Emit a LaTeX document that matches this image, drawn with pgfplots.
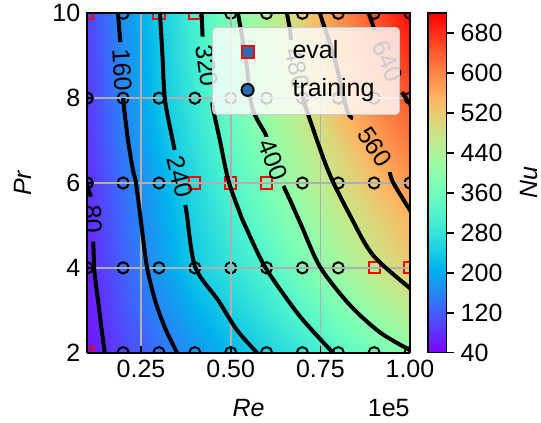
\documentclass[border=0pt]{standalone}
\usepackage{fontspec}
\setmainfont{Liberation Sans}
\usepackage{pgfplots}
\pgfplotsset{compat=1.18}
\pgfplotsset{/pgf/number format/assume math mode=true}
\definecolor{legblue}{RGB}{40,110,185}
\definecolor{gridgray}{RGB}{176,176,176}
\pgfplotsset{
 colormap={mplrainbow}{
  rgb=(0.5,0,1)
  rgb=(0.375,0.1951,0.9952)
  rgb=(0.25,0.3827,0.9808)
  rgb=(0.125,0.5556,0.9569)
  rgb=(0,0.7071,0.9239)
  rgb=(0.125,0.8315,0.8819)
  rgb=(0.25,0.9239,0.8315)
  rgb=(0.375,0.9808,0.7730)
  rgb=(0.5,1,0.7071)
  rgb=(0.625,0.9808,0.6344)
  rgb=(0.75,0.9239,0.5556)
  rgb=(0.875,0.8315,0.4714)
  rgb=(1,0.7071,0.3827)
  rgb=(1,0.5556,0.2903)
  rgb=(1,0.3827,0.1951)
  rgb=(1,0.1951,0.0980)
  rgb=(1,0,0)
 },
 mylegimg/.style={legend image code/.code={\path[draw=none,fill=none] (0pt,-3pt) rectangle (25pt,3pt);\draw[mark repeat=2,mark phase=2,##1] plot coordinates {(0pt,0pt) (12.5pt,0pt) (25pt,0pt)};}},
 cline/.style={black, line width=2pt, smooth, tension=0.5, forget plot, no marks},
 gline/.style={gridgray, line width=0.8pt, forget plot, no marks},
}
\tikzset{clab/.style={inner sep=0pt, anchor=center}}
\newcommand{\fs}{\fontsize{12.5}{15}\selectfont}
\begin{document}
\begin{tikzpicture}
\begin{axis}[
 name=ax,
 scale only axis, width=161.35pt, height=169.7pt,
 view={0}{90},
 xmin=0.1, xmax=1.0, ymin=2, ymax=10, zmin=0, zmax=800,
 colormap name=mplrainbow,
 point meta min=40, point meta max=720,
 xtick={0.25,0.5,0.75,1}, xticklabels={0.25,0.50,0.75,1.00},
 ytick={2,4,6,8,10},
 tick align=inside, major tick length=3.5pt,
 tick pos=left,
 tick style={black, line width=0.8pt},
 axis line style={line width=0.8pt},
 font=\fs,
 xlabel={\textit{Re}}, ylabel={\textit{Pr}},
 xlabel style={at={(axis description cs:0.5,-0.163)}, anchor=center},
 ylabel style={at={(axis description cs:-0.199,0.5)}, anchor=center},
 colorbar,
 colorbar style={at={(parent axis.north east)}, anchor=north west, xshift=0.6pt,
   width=9.2pt, ytick={40,120,...,680}, tick align=outside, major tick length=3.5pt,
   ytick pos=right, yticklabel pos=right,
   ylabel={\textit{Nu}}, ylabel style={at={(axis description cs:5.47,0.5)}, anchor=center},
   font=\fs, axis line style={line width=0.8pt}, tick style={line width=0.8pt, black}},
 legend style={at={(axis description cs:0.969,0.9596)}, anchor=north east,
   fill=white, fill opacity=0.8, draw opacity=1, text opacity=1,
   draw={rgb,255:red,204;green,204;blue,204}, rounded corners=2pt,
   inner xsep=5pt, inner ysep=6pt, row sep=6.5pt,
   nodes={inner sep=0pt, text height=9.5pt, text depth=3pt},
   /tikz/every odd column/.append style={column sep=10pt},
   font=\fs},
 legend cell align=left,
]
% Nu field (Re in units of 1e5)
\addplot3[surf, shader=interp, mesh/cols=10, forget plot] table {
x y z
0.1 2 58
0.2 2 100.3
0.3 2 140.1
0.4 2 177.9
0.5 2 213.8
0.6 2 250.2
0.7 2 287.9
0.8 2 325.6
0.9 2 362.8
1.0 2 400
0.1 3 62.7
0.2 3 112.1
0.3 3 161.3
0.4 3 204.5
0.5 3 247.3
0.6 3 287.7
0.7 3 329.4
0.8 3 376.5
0.9 3 420
1.0 3 460
0.1 4 69.7
0.2 4 123.8
0.3 4 179.7
0.4 4 239.4
0.5 4 280.4
0.6 4 321.6
0.7 4 373.9
0.8 4 423.5
0.9 4 470.6
1.0 4 517.6
0.1 5 76
0.2 5 130.6
0.3 5 189.7
0.4 5 248.7
0.5 5 299.6
0.6 5 350.6
0.7 5 401.6
0.8 5 455.7
0.9 5 502.6
1.0 5 543.6
0.1 6 80.5
0.2 6 139.3
0.3 6 199.7
0.4 6 261.4
0.5 6 322.1
0.6 6 375.8
0.7 6 431.4
0.8 6 487.1
0.9 6 534.8
1.0 6 582.4
0.1 7 84
0.2 7 151.3
0.3 7 215.6
0.4 7 277.6
0.5 7 338.2
0.6 7 398.8
0.7 7 454.8
0.8 7 512.6
0.9 7 571.9
1.0 7 615
0.1 8 89
0.2 8 159.3
0.3 8 228.9
0.4 8 291.3
0.5 8 358.9
0.6 8 424
0.7 8 478.4
0.8 8 549.3
0.9 8 598.9
1.0 8 646
0.1 9 92
0.2 9 163.5
0.3 9 233
0.4 9 301
0.5 9 371.4
0.6 9 435
0.7 9 496.7
0.8 9 566.8
0.9 9 619.5
1.0 9 680
0.1 10 96
0.2 10 169.6
0.3 10 238
0.4 10 306.9
0.5 10 384.2
0.6 10 446.7
0.7 10 517.4
0.8 10 590
0.9 10 649
1.0 10 712
};
% training points
\addplot[scatter, only marks, mark=*, mark size=2.8pt, scatter/use mapped color={draw=black, fill=mapped color}, mark options={line width=1pt}, point meta=explicit, clip marker paths=true, forget plot] table[x=x, y=y, meta=z] {
x y z
0.2 10 169.6
0.5 10 384.2
0.6 10 446.7
0.7 10 517.4
0.8 10 590
0.9 10 649
1.0 10 712
0.1 8 89
0.2 8 159.3
0.3 8 228.9
0.4 8 291.3
0.5 8 358.9
0.6 8 424
0.7 8 478.4
0.8 8 549.3
0.9 8 598.9
1.0 8 646
0.1 6 80.5
0.2 6 139.3
0.3 6 199.7
0.7 6 431.4
0.8 6 487.1
0.9 6 534.8
1.0 6 582.4
0.1 4 69.7
0.2 4 123.8
0.3 4 179.7
0.4 4 239.4
0.5 4 280.4
0.6 4 321.6
0.7 4 373.9
0.8 4 423.5
0.2 2 100.3
0.3 2 140.1
0.4 2 177.9
0.5 2 213.8
0.6 2 250.2
0.7 2 287.9
0.8 2 325.6
0.9 2 362.8
1.0 2 400
};
% eval points
\addplot[scatter, only marks, mark=square*, mark size=2.8pt, scatter/use mapped color={draw=red, fill=mapped color}, mark options={line width=1pt}, point meta=explicit, clip marker paths=true, forget plot] table[x=x, y=y, meta=z] {
x y z
0.1 10 96
0.3 10 238
0.4 10 306.9
0.4 6 261.4
0.5 6 322.1
0.6 6 375.8
0.9 4 470.6
1.0 4 517.6
0.1 2 58
};
% grid lines
\addplot[gline] coordinates {(0.25,2) (0.25,10)};
\addplot[gline] coordinates {(0.5,2) (0.5,10)};
\addplot[gline] coordinates {(0.75,2) (0.75,10)};
\addplot[gline] coordinates {(0.1,4) (1.0,4)};
\addplot[gline] coordinates {(0.1,6) (1.0,6)};
\addplot[gline] coordinates {(0.1,8) (1.0,8)};
% contour lines
% 80
\addplot[cline] coordinates {(0.098,6.0) (0.103,5.85) (0.110,5.68)};
\addplot[cline] coordinates {(0.1165,4.62) (0.118,4.3) (0.1187,4.0) (0.124,3.6) (0.1298,3.24) (0.139,2.6) (0.149,2.0) (0.151,1.9)};
% 160
\addplot[cline] coordinates {(0.1845,10.1) (0.1856,10) (0.192,9.32)};
\addplot[cline] coordinates {(0.2005,8.0) (0.2023,7.79) (0.2135,7.01) (0.2274,6.30) (0.2358,6.0) (0.251,5.0) (0.2665,4.02) (0.2888,3.24) (0.316,2.6) (0.3501,2.0) (0.357,1.9)};
% 240
\addplot[cline] coordinates {(0.302,10.1) (0.3027,10) (0.3097,9.0) (0.3167,7.956) (0.3398,6.935) (0.3434,6.78)};
\addplot[cline] coordinates {(0.373,5.48) (0.3772,5.285) (0.4006,4.026) (0.4645,3.24) (0.5175,2.533) (0.5733,2.0) (0.582,1.93)};
% 320
\addplot[cline] coordinates {(0.419,10.1) (0.419,10) (0.4215,9.45)};
\addplot[cline] coordinates {(0.4485,7.9) (0.4514,7.72) (0.470,7.0) (0.4932,6.07) (0.5258,5.285) (0.540,5.0) (0.5955,4.026) (0.6792,3.007) (0.73,2.5) (0.7852,2.0) (0.795,1.92)};
% 400
\addplot[cline] coordinates {(0.5195,10.1) (0.5203,10) (0.5426,8.9) (0.5593,7.79) (0.5955,7.18) (0.5997,7.09)};
\addplot[cline] coordinates {(0.647,5.93) (0.6653,5.6) (0.697,5.0) (0.7489,4.027) (0.8326,3.12) (0.9162,2.48) (1.0,2.06) (1.01,2.02)};
% 480
\addplot[cline] coordinates {(0.656,10.1) (0.6569,10) (0.6653,9.61) (0.668,9.37)};
\addplot[cline] coordinates {(0.704,8.03) (0.7071,7.84) (0.7713,6.30) (0.8326,5.24) (0.8968,4.30) (1.0,3.52) (1.01,3.46)};
% 560
\addplot[cline] coordinates {(0.748,10.1) (0.7489,10) (0.7907,8.9) (0.8242,7.72) (0.841,7.53)};
\addplot[cline] coordinates {(0.9441,6.26) (0.9525,6.02) (1.0,5.36) (1.01,5.25)};
% 640
\addplot[cline] coordinates {(0.884,10.1) (0.8851,10) (0.9013,9.61)};
\addplot[cline] coordinates {(0.9776,8.14) (1.0,7.86) (1.01,7.75)};
% contour labels
\node[clab, rotate=-88] at (axis cs:0.115,5.15) {80};
\node[clab, rotate=-87] at (axis cs:0.197,8.66) {160};
\node[clab, rotate=-76] at (axis cs:0.3585,6.14) {240};
\node[clab, rotate=-82] at (axis cs:0.4344,8.76) {320};
\node[clab, rotate=-68] at (axis cs:0.6178,6.54) {400};
\node[clab, rotate=-77] at (axis cs:0.686,8.70) {480};
\node[clab, rotate=-56] at (axis cs:0.902,6.85) {560};
\node[clab, rotate=-66] at (axis cs:0.9385,8.87) {640};
% legend
\addlegendimage{only marks, mark=square*, mark size=3pt, mark options={draw=red, fill=legblue, line width=1pt, fill opacity=1, draw opacity=1}, mylegimg}
\addlegendentry{eval}
\addlegendimage{only marks, mark=*, mark size=3pt, mark options={draw=black, fill=legblue, line width=1pt, fill opacity=1, draw opacity=1}, mylegimg}
\addlegendentry{\makebox[48.5pt][l]{training}}
\end{axis}
\draw[line width=0.8pt] (ax.south west) rectangle (ax.north east);
\node[anchor=east, inner sep=0pt, font=\fs] at ([yshift=-27.5pt]ax.south east) {1e5};
\pgfresetboundingbox
\path[use as bounding box] ([shift={(-43.65pt,-35.15pt)}]ax.south west) rectangle ([shift={(226.85pt,176.35pt)}]ax.south west);
\end{tikzpicture}
\end{document}
